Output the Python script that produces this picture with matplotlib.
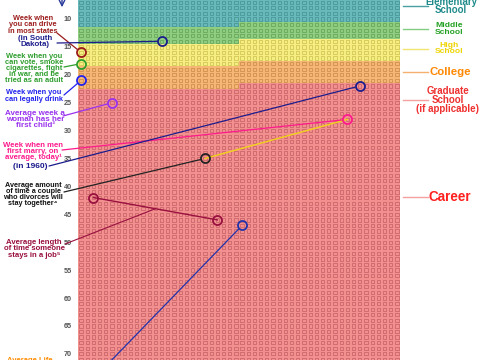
import numpy as np
import matplotlib.pyplot as plt
from matplotlib.colors import ListedColormap

plt.rcParams['font.family'] = ['Liberation Sans', 'DejaVu Sans']

WEEKS = 52
YEARS = 76
tick_ages = [10, 15, 20, 25, 30, 35, 40, 45, 50, 55, 60, 65, 70]

# life stages: name, last (year, week) of the stage, colours
stage_names = ['Elementary\nSchool', 'Middle\nSchool', 'High\nSchool', 'College',
               'Graduate\nSchool\n(if applicable)', 'Career', 'Retirement']
stage_end_year = [11, 14, 18, 22, 63, 76, 76]
stage_end_week = [26, 26, 26, 26, 0, 0, 0]
stage_bg = ['#68b9b9', '#8fcd80', '#f6ee82', '#f6b676', '#f29090', '#f29090', '#bcaadb']
stage_box = ['#4e9c9c', '#6fae62', '#d6cc5c', '#d49652', '#d06c70', '#d06c70', '#9886bb']
stage_text = ['#1e8a8a', '#22a022', '#eed400', '#ff8800', '#ee3030', '#ff2020', '#8866cc']
stage_lead = ['#4aa0a0', '#80cc80', '#f2e470', '#f5b070', '#f4a0a0', '#f4a0a0', '#bcaadb']

# milestones (age in years, week of the year)
ms_label = ['drive', 'drive_sd', 'vote', 'drink', 'child', 'marry', 'marry_1960',
            'divorce', 'job_start', 'job_end', 'life']
ms_year = [16, 14, 18, 21, 25, 28, 22, 35, 42, 46, 47]
ms_week = [0, 13, 0, 0, 5, 43, 45, 20, 2, 22, 26]
ms_color = ['#9b1b1b', '#1c1c8c', '#2e9e2e', '#2222ee', '#9932ee', '#ff1a8c', '#1c1c8c',
            '#222222', '#99103f', '#99103f', '#2233aa']


def fpx(x, y):
    # image pixel (from top-left) -> figure fraction
    return x / 480, 1 - y / 360


fig = plt.figure(figsize=(4.8, 3.6), dpi=100)
ax = fig.add_axes([78 / 480, 0, 322 / 480, 1])
renderer = fig.canvas.get_renderer()


def fit_text(txt, cx, cy, w, h, color, ls=0.85):
    # bold text block centred at (cx, cy), as wide as w px unless taller than h px
    t = fig.text(*fpx(cx, cy), txt, ha='center', va='center', color=color,
                 fontsize=10, fontweight='bold', linespacing=ls)
    bb = t.get_window_extent(renderer)
    fs = 10 * w / bb.width
    if h:
        fs = min(fs, 10 * h / bb.height)
    t.set_fontsize(fs)
    return t


rows, cols = np.mgrid[0:YEARS, 0:WEEKS]
idx = rows * WEEKS + cols
ends = np.array(stage_end_year) * WEEKS + np.array(stage_end_week)
stage = np.searchsorted(ends, idx, side='right')

ax.pcolormesh(np.arange(WEEKS + 1) - 0.5, np.arange(YEARS + 1) - 0.5, stage,
              cmap=ListedColormap(stage_bg), vmin=-0.5, vmax=len(stage_bg) - 0.5)
box_ec = np.array(stage_box)[stage.ravel()]
ax.scatter(cols.ravel(), rows.ravel(), marker='s', s=5.5, facecolors='none',
           edgecolors=box_ec, linewidths=0.7, zorder=2)

ax.set_xlim(-0.5, WEEKS - 0.5)
ax.set_ylim(71.11, 6.6)
for s in ax.spines.values():
    s.set_visible(False)
ax.set_xticks([])
ax.set_yticks(tick_ages)
ax.set_yticklabels([str(a) for a in tick_ages], fontsize=5.2, color='#555555',
                   fontweight='bold')
ax.tick_params(axis='y', length=0, pad=4.5)

# connections between milestones
ax.plot([ms_week[7], ms_week[5]], [ms_year[7], ms_year[5]], color='#f2d21a', lw=1, zorder=3)
ax.plot([ms_week[8], ms_week[9]], [ms_year[8], ms_year[9]], color='#99103f', lw=1, zorder=3)

# leader lines from the labels (image pixel start points)
lead_from = [(57, 33), (57, 43), (64, 67), (64, 95), (63, 116), (62, 150), (49, 166),
             (64, 192), None, None, (104, 368)]
for i, start in enumerate(lead_from):
    if start is None:
        continue
    ax.annotate('', xy=(ms_week[i], ms_year[i]), xycoords='data',
                xytext=(start[0], 360 - start[1]), textcoords='figure pixels',
                arrowprops=dict(arrowstyle='-', color=ms_color[i], lw=0.9,
                                shrinkA=0, shrinkB=3.5), zorder=3)

# the job label points at the middle of the job span
job_mid = ((ms_week[8] + ms_week[9]) / 2, (ms_year[8] + ms_year[9]) / 2)
ax.annotate('', xy=job_mid, xycoords='data', xytext=(65, 360 - 244),
            textcoords='figure pixels',
            arrowprops=dict(arrowstyle='-', color='#99103f', lw=0.8, shrinkA=0, shrinkB=0),
            zorder=3)

for i in range(len(ms_week)):
    ax.plot(ms_week[i], ms_year[i], marker='o', ms=6.5, mfc='none', mew=1.3,
            mec=ms_color[i], zorder=5, clip_on=False)

# left annotations: text, centre x, centre y, width, max height (pixels)
left_texts = [
    ('Week when\nyou can drive\nin most states', 33, 25, 50, 24, '#9b1b1b'),
    ('(in South\nDakota)', 35, 41.5, 46, 15, '#1c1c8c'),
    ('Week when you\ncan vote, smoke\ncigarettes, fight\nin war, and be\ntried as an adult',
     34, 68.5, 58, 34, '#2e9e2e'),
    ('Week when you\ncan legally drink', 34, 96, 58, 19, '#2222ee'),
    ('Average week a\nwoman has her\nfirst child\u00b2', 35, 119.5, 60, 26, '#9932ee'),
    ('Week when men\nfirst marry, on\naverage, today\u00b9', 33, 151.5, 60, 25, '#ff1a8c'),
    ('(in 1960)', 30, 166.5, 34, 0, '#1c1c8c'),
    ('Average amount\nof time a couple\nwho divorces will\nstay together\u2074',
     33, 194.5, 60, 34, '#111111'),
    ('Average length\nof time someone\nstays in a job\u2075', 34, 249, 62, 27, '#99103f'),
    ('Average Life\nExpectancy', 30, 364, 46, 22, '#ff8c00'),
]
for txt, x, y, w, h, c in left_texts:
    fit_text(txt, x, y, w, h, c)

# right stage labels: centre x, centre y, width, max height (pixels)
right_pos = [(451, 6, 52, 24), (449, 29, 28, 18), (449, 48.5, 28, 19),
             (450, 72, 41, 0), (448, 100, 63, 30), (450, 197, 43, 0)]
for i, (x, y, w, h) in enumerate(right_pos):
    fit_text(stage_names[i], x, y, w, h, stage_text[i])
    fig.add_artist(plt.Line2D([403 / 480, 428 / 480], [1 - y / 360] * 2,
                              color=stage_lead[i], lw=1, transform=fig.transFigure))

# age arrow at top
ax.annotate('', xy=(62, 350), xycoords='figure pixels', xytext=(62, 364),
            arrowprops=dict(arrowstyle='->', color='#2a3a9a', lw=1))

fig.savefig('out.png', dpi=100)
